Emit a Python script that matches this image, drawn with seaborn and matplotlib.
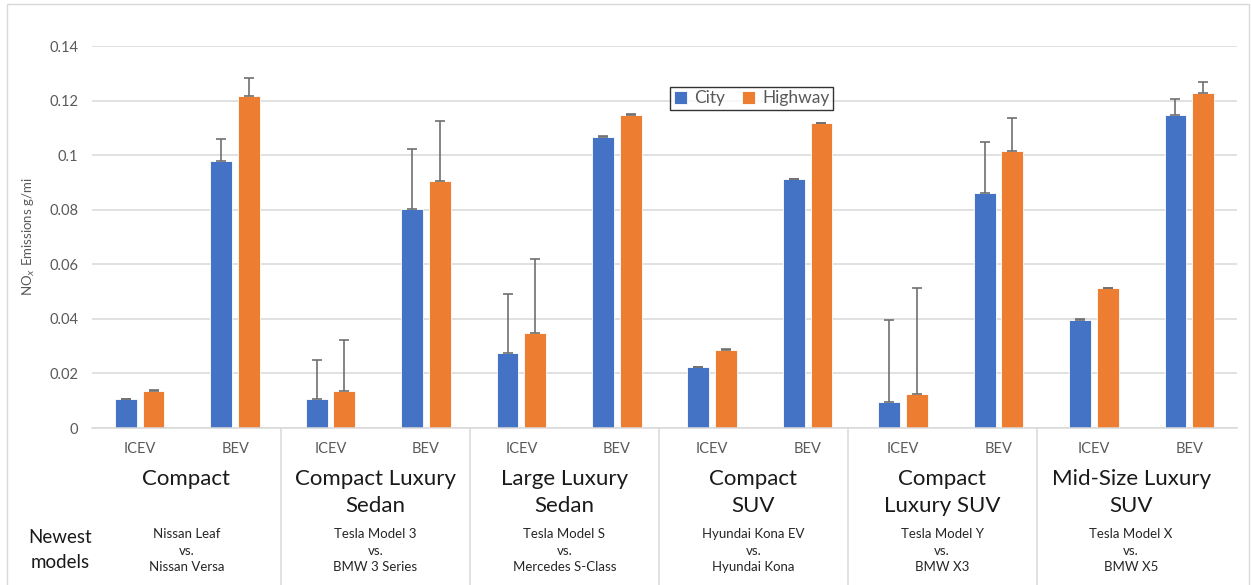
import matplotlib
matplotlib.use("Agg")
import matplotlib.pyplot as plt
import matplotlib.transforms as mtransforms
from matplotlib.patches import Rectangle
import numpy as np
import pandas as pd
import seaborn as sns

# ---- data -------------------------------------------------------------
segments = ["Compact", "Compact Luxury\nSedan", "Large Luxury\nSedan",
            "Compact\nSUV", "Compact\nLuxury SUV", "Mid-Size Luxury\nSUV"]
models = ["Nissan Leaf\nvs.\nNissan Versa",
          "Tesla Model 3\nvs.\nBMW 3 Series",
          "Tesla Model S\nvs.\nMercedes S-Class",
          "Hyundai Kona EV\nvs.\nHyundai Kona",
          "Tesla Model Y\nvs.\nBMW X3",
          "Tesla Model X\nvs.\nBMW X5"]
powertrains = ["ICEV", "BEV"]
cycles = ["City", "Highway"]

city = [0.0106, 0.0978, 0.0107, 0.0802, 0.0275, 0.1067,
        0.0222, 0.0912, 0.0094, 0.0860, 0.0396, 0.1147]
highway = [0.0136, 0.1217, 0.0136, 0.0905, 0.0347, 0.1146,
           0.0286, 0.1116, 0.0123, 0.1014, 0.0512, 0.1229]
city_err = [0.0002, 0.0081, 0.0143, 0.0219, 0.0216, 0.0002,
            0.0003, 0.0002, 0.0302, 0.0189, 0.0002, 0.0059]
highway_err = [0.0002, 0.0066, 0.0186, 0.0220, 0.0271, 0.0003,
               0.0003, 0.0002, 0.0390, 0.0123, 0.0002, 0.0040]

yticks = [0, 0.02, 0.04, 0.06, 0.08, 0.1, 0.12, 0.14]
ytick_labels = ["0", "0.02", "0.04", "0.06", "0.08", "0.1", "0.12", "0.14"]

# ---- long-form table ---------------------------------------------------
slots = [f"{s.replace(chr(10), ' ')} | {p}" for s in segments for p in powertrains]
df = pd.DataFrame({
    "slot": slots * 2,
    "cycle": ["City"] * len(slots) + ["Highway"] * len(slots),
    "nox": city + highway,
})

# ---- style -------------------------------------------------------------
sns.set_theme(style="white")
plt.rcParams["font.family"] = ["Lato", "DejaVu Sans"]
GREY = "#595959"
GRID = "#d9d9d9"
palette = {"City": "#4472C4", "Highway": "#ED7D31"}

fig = plt.figure(figsize=(12.51, 5.85), dpi=100)
ax = fig.add_axes([92 / 1251, 1 - 428 / 585, (1237 - 92) / 1251, (428 - 46) / 585])

sns.barplot(data=df, x="slot", y="nox", hue="cycle", order=slots,
            hue_order=cycles, palette=palette, width=0.58, gap=0.21,
            errorbar=None, saturation=1, edgecolor="#ffffff",
            linewidth=0.6, ax=ax, zorder=2)

# upper-only error bars on each bar
for container, errs in zip(ax.containers, [city_err, highway_err]):
    xs = [b.get_x() + b.get_width() / 2 for b in container]
    ys = [b.get_height() for b in container]
    ax.errorbar(xs, ys, yerr=[np.zeros(len(errs)), errs], fmt="none",
                ecolor="#6f6f6f", elinewidth=1.2, capsize=3.5,
                capthick=1.2, zorder=3)

# axes
ax.set_xlim(-0.5, len(slots) - 0.5)
ax.set_ylim(0, 0.14)
ax.set_yticks(yticks)
ax.set_yticklabels(ytick_labels, color=GREY, fontsize=10.5)
ax.yaxis.grid(True, color=GRID, linewidth=1.1, zorder=0)
ax.set_axisbelow(True)
ax.set_xticks(range(len(slots)))
ax.set_xticklabels(powertrains * len(segments), color=GREY, fontsize=10.5)
ax.tick_params(axis="x", length=0, pad=10)
ax.tick_params(axis="y", length=0, pad=10)
for side in ["top", "right", "left"]:
    ax.spines[side].set_visible(False)
ax.spines["bottom"].set_color(GRID)
ax.spines["bottom"].set_linewidth(1.1)
ax.set_xlabel("")
ax.set_ylabel("NO$_x$ Emissions g/mi", color=GREY, fontsize=9.5)
ax.yaxis.set_label_coords(-0.048, 0.5)

# segment separators and multi-level labels below the axis
blend = mtransforms.blended_transform_factory(ax.transData, ax.transAxes)
group_w = 1.98
for k in range(1, len(segments)):
    xk = -0.5 + k * group_w
    ax.plot([xk, xk], [0, -0.42], transform=blend, color=GRID,
            linewidth=1.1, clip_on=False)
for k, (seg, mod) in enumerate(zip(segments, models)):
    xc = -0.5 + (k + 0.5) * group_w
    ax.text(xc, -0.108, seg, transform=blend, ha="center", va="top",
            fontsize=16, color="#1a1a1a", linespacing=1.42)
    ax.text(xc, -0.262, mod, transform=blend, ha="center", va="top",
            fontsize=9.5, color="#262626", linespacing=1.45)

fig.text(60 / 1251, 1 - 550 / 585, "Newest\nmodels", ha="center",
         va="center", fontsize=13.5, color="#1a1a1a", linespacing=1.6)

# legend
leg = ax.legend(loc="upper left", bbox_to_anchor=(0.505, 0.893), ncol=2,
                frameon=True, fancybox=False, fontsize=12.5,
                handlelength=0.75, handleheight=0.75, handletextpad=0.4,
                columnspacing=1.0, borderpad=0.2, borderaxespad=0)
leg.get_frame().set_edgecolor("#000000")
leg.get_frame().set_linewidth(1.0)
for t in leg.get_texts():
    t.set_color(GREY)

# outer frame
fig.patches.append(Rectangle((7 / 1251, -0.01), (1249 - 7) / 1251,
                             1 - 4 / 585 + 0.01, transform=fig.transFigure,
                             fill=False, edgecolor=GRID, linewidth=1.0))

fig.savefig("out.png", dpi=100)
